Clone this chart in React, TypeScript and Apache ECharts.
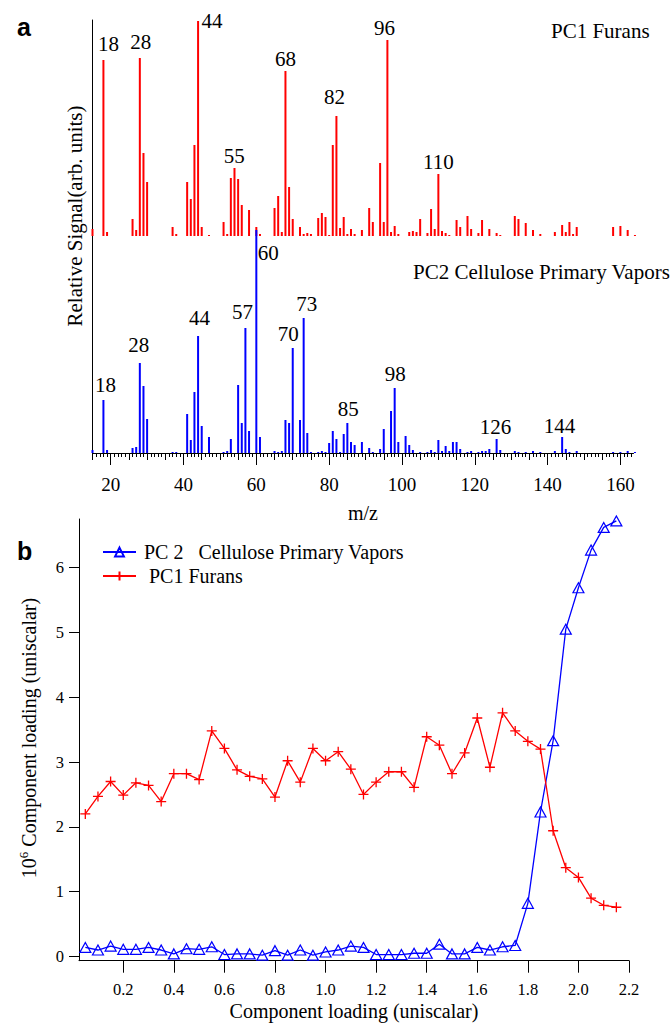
import React, { useEffect, useRef } from "react";
import * as echarts from "echarts";

// ---------- Panel a : mass spectra (relative signal, arb. units) ----------
const redMz = [15,18,19,26,27,28,29,30,37,38,41,42,43,44,45,47,51,52,53,54,55,56,58,60,61,65,66,67,68,69,70,72,73,74,75,77,78,79,80,81,82,83,84,85,86,87,89,91,92,94,95,96,97,98,99,102,103,104,105,107,108,109,110,111,112,113,115,116,118,119,121,122,124,126,127,131,132,134,136,138,142,144,145,146,147,148,158,160,162,164];
const redSignal = [7,176,4,17,6,178,83,54,9,2,54,37,91,215,9,1,14,2,58,68,57,31,26,9,2,28,40,4,165,49,17,9,2,3,2,18,23,19,1,91,120,8,19,2,7,2,6,28,14,73,14,196,4,10,2,4,5,4,17,3,27,7,62,5,3,1,16,9,20,7,3,16,7,3,1,20,17,13,6,2,4,11,4,14,2,9,9,10,6,1];
const redPeaks = [18,28,44,55,68,82,96,110];

const blueMz = [15,18,19,26,27,28,29,30,37,38,41,42,43,44,45,47,51,52,53,55,56,57,58,60,61,65,66,67,68,69,70,72,73,74,75,77,78,79,80,81,82,83,84,85,86,87,89,91,92,94,95,97,98,99,101,102,103,105,107,108,109,110,111,112,113,114,115,116,118,119,121,122,123,124,126,127,131,132,134,136,138,142,144,145,146,148,158,160,162,164];
const blueSignal = [3,53,3,5,6,90,67,34,1,1,39,13,61,117,27,16,1,2,14,68,30,125,22,223,16,2,1,2,33,30,105,33,135,20,1,1,2,1,10,22,14,1,19,30,11,8,11,5,1,4,24,42,65,11,17,8,3,1,1,3,1,13,2,7,2,11,11,4,1,2,1,2,2,4,14,3,2,1,1,2,1,2,16,4,1,2,1,1,2,1];
const bluePeaks = [18,28,44,57,60,70,73,85,98,126,144];

const mzTicks = [20,40,60,80,100,120,140,160];

// ---------- Panel b : component loading ----------
const loading = [0.05,0.10,0.15,0.20,0.25,0.30,0.35,0.40,0.45,0.50,0.55,0.60,0.65,0.70,0.75,0.80,0.85,0.90,0.95,1.00,1.05,1.10,1.15,1.20,1.25,1.30,1.35,1.40,1.45,1.50,1.55,1.60,1.65,1.70,1.75,1.80,1.85,1.90,1.95,2.00,2.05,2.10,2.15];
const pc2Values = [0.14,0.10,0.16,0.11,0.11,0.14,0.10,0.04,0.12,0.11,0.15,0.03,0.04,0.04,0.02,0.09,0.02,0.10,0.02,0.07,0.10,0.16,0.14,0.03,0.03,0.03,0.05,0.05,0.19,0.04,0.04,0.14,0.10,0.15,0.17,0.82,2.23,3.33,5.05,5.69,6.27,6.62,6.72];
const pc1Values = [2.20,2.47,2.70,2.49,2.68,2.64,2.39,2.82,2.82,2.73,3.48,3.21,2.88,2.78,2.74,2.46,3.02,2.69,3.21,3.02,3.16,2.89,2.50,2.69,2.85,2.85,2.61,3.39,3.26,2.82,3.14,3.68,2.92,3.76,3.48,3.32,3.20,1.94,1.37,1.22,0.90,0.79,0.76];
const loadingTicks = [0.2,0.4,0.6,0.8,1.0,1.2,1.4,1.6,1.8,2.0,2.2];
const signalTicks = [0,1,2,3,4,5,6];

const PC2_NAME = "PC 2\u00a0\u00a0\u00a0Cellulose Primary Vapors";
const PC1_NAME = "\u00a0PC1 Furans";

// label placement tweaks (style only)
const redLabelOffsets: Record<number, [number, number]> = {
  18: [5, -6], 28: [1, -6], 44: [14, 10], 55: [-4, -13], 68: [0, -2], 82: [-2, -9], 96: [-3, -2], 110: [0, -2],
};
const blueLabelOffsets: Record<number, [number, number]> = {
  18: [2, -5], 28: [-1, -8], 44: [1.5, -8], 57: [-3, -6], 60: [12, 33], 70: [-4.5, -3.5], 73: [3, -3.5], 85: [1, -3.5], 98: [0.7, -4], 126: [-1, -2], 144: [-2.7, -0.5],
};

const SERIF = "Liberation Serif, Times New Roman, serif";
const SANS = "Liberation Sans, Arial, sans-serif";

function barData(mz: number[], sig: number[], peaks: number[], offsets: Record<number, [number, number]>) {
  return mz.map((m, i) => {
    if (peaks.indexOf(m) >= 0) {
      return {
        value: [m, sig[i]],
        label: {
          show: true,
          position: "top",
          distance: 0,
          formatter: String(m),
          offset: offsets[m] || [0, 0],
          fontSize: 21,
          lineHeight: 21,
          fontFamily: SERIF,
          color: "#000",
        },
      };
    }
    return { value: [m, sig[i]] };
  });
}

export default function App() {
  const ref = useRef<HTMLDivElement>(null);

  useEffect(() => {
    if (!ref.current) return;
    const chart = echarts.init(ref.current, undefined, { renderer: "svg" });

    const mzMin = 15;
    const mzMax = 163.6;
    const tick5: number[] = [];
    for (let v = 15; v <= 160; v += 5) tick5.push(v);
    const tick1: number[] = [];
    for (let v = 15; v <= 163; v += 1) tick1.push(v);

    const blackLine = { color: "#000", width: 1 };

    const option: any = {
      animation: false,
      backgroundColor: "#fff",
      textStyle: { fontFamily: SERIF },
      grid: [
        { left: 92.5, top: 20, width: 541, height: 216 },
        { left: 92.5, top: 230, width: 541, height: 223 },
        { left: 79, top: 519, width: 550, height: 441.7 },
      ],
      xAxis: [
        { type: "value", gridIndex: 0, position: "bottom", min: mzMin, max: mzMax, show: false },
        {
          type: "value", gridIndex: 1, position: "bottom", min: mzMin, max: mzMax,
          axisLine: { show: true, onZero: false, lineStyle: blackLine },
          axisTick: { show: true, length: 12, customValues: mzTicks, lineStyle: blackLine },
          axisLabel: { show: true, customValues: mzTicks, margin: 22, fontSize: 19, fontFamily: SERIF, color: "#000" },
          splitLine: { show: false },
        },
        {
          type: "value", gridIndex: 1, position: "bottom", min: mzMin, max: mzMax,
          axisLine: { show: false, onZero: false },
          axisTick: { show: true, length: 7, customValues: tick5, lineStyle: blackLine },
          axisLabel: { show: false },
          splitLine: { show: false },
        },
        {
          type: "value", gridIndex: 1, position: "bottom", min: mzMin, max: mzMax,
          axisLine: { show: false, onZero: false },
          axisTick: { show: true, length: 4, customValues: tick1, lineStyle: blackLine },
          axisLabel: { show: false },
          splitLine: { show: false },
        },
        {
          type: "value", gridIndex: 2, position: "bottom", min: 0.025, max: 2.2,
          axisLine: { show: true, onZero: false, lineStyle: blackLine },
          axisTick: { show: true, length: 12, customValues: loadingTicks, lineStyle: blackLine },
          axisLabel: {
            show: true, customValues: loadingTicks, margin: 20, fontSize: 16.5, fontFamily: SERIF, color: "#000",
            formatter: (v: number) => v.toFixed(1),
          },
          splitLine: { show: false },
        },
      ],
      yAxis: [
        {
          type: "value", gridIndex: 0, position: "left", min: 0, max: 216,
          axisLine: { show: true, onZero: false, lineStyle: blackLine },
          axisTick: { show: false }, axisLabel: { show: false }, splitLine: { show: false },
        },
        {
          type: "value", gridIndex: 1, position: "left", min: 0, max: 223,
          axisLine: { show: true, onZero: false, lineStyle: blackLine },
          axisTick: { show: false }, axisLabel: { show: false }, splitLine: { show: false },
        },
        {
          type: "value", gridIndex: 2, position: "left", min: -0.065, max: 6.75,
          axisLine: { show: true, onZero: false, lineStyle: blackLine },
          axisTick: { show: true, length: 10, customValues: signalTicks, lineStyle: blackLine },
          axisLabel: { show: true, customValues: signalTicks, margin: 15, fontSize: 16.5, fontFamily: SERIF, color: "#000" },
          splitLine: { show: false },
        },
      ],
      legend: {
        orient: "vertical",
        left: 102,
        top: 542,
        padding: 0,
        itemWidth: 33,
        itemHeight: 11,
        itemGap: 4,
        selectedMode: false,
        textStyle: { fontSize: 20, lineHeight: 20, fontFamily: SERIF, color: "#000", padding: [0, 0, 0, 3] },
        data: [PC2_NAME, PC1_NAME],
      },
      series: [
        {
          type: "bar", name: "PC1 Furans spectrum", xAxisIndex: 0, yAxisIndex: 0,
          barWidth: 2, itemStyle: { color: "#ff0000" },
          data: barData(redMz, redSignal, redPeaks, redLabelOffsets),
        },
        {
          type: "bar", name: "PC2 spectrum", xAxisIndex: 1, yAxisIndex: 1,
          barWidth: 2, itemStyle: { color: "#0000ff" },
          data: barData(blueMz, blueSignal, bluePeaks, blueLabelOffsets),
        },
        {
          type: "line", name: PC2_NAME, xAxisIndex: 4, yAxisIndex: 2,
          symbol: "triangle", symbolSize: [11, 10],
          lineStyle: { color: "#0000ff", width: 1.3 },
          itemStyle: { color: "rgba(255,255,255,0)", borderColor: "#0000ff", borderWidth: 1.2 },
          data: loading.map((x, i) => [x, pc2Values[i]]),
        },
        {
          type: "line", name: PC1_NAME, xAxisIndex: 4, yAxisIndex: 2,
          symbol: "path://M5,0L5,10M0,5L10,5", symbolSize: 10,
          lineStyle: { color: "#ff0000", width: 1.3 },
          itemStyle: { color: "#ff0000", borderColor: "#ff0000", borderWidth: 1.3 },
          data: loading.map((x, i) => [x, pc1Values[i]]),
        },
      ],
      graphic: [
        { type: "text", x: 17, y: 27, style: { text: "a", font: `bold 25px ${SANS}`, fill: "#000", align: "left", verticalAlign: "middle" } },
        { type: "text", x: 17, y: 551, style: { text: "b", font: `bold 25px ${SANS}`, fill: "#000", align: "left", verticalAlign: "middle" } },
        { type: "text", x: 551, y: 31, style: { text: "PC1 Furans", font: `21px ${SERIF}`, fill: "#000", align: "left", verticalAlign: "middle" } },
        { type: "text", x: 413, y: 272, style: { text: "PC2 Cellulose Primary Vapors", font: `21px ${SERIF}`, fill: "#000", align: "left", verticalAlign: "middle" } },
        { type: "text", x: 75, y: 216, rotation: Math.PI / 2, style: { text: "Relative Signal(arb. units)", font: `21px ${SERIF}`, fill: "#000", align: "center", verticalAlign: "middle" } },
        { type: "text", x: 363, y: 513, style: { text: "m/z", font: `20px ${SERIF}`, fill: "#000", align: "center", verticalAlign: "middle" } },
        { type: "text", x: 354, y: 1011, style: { text: "Component loading (uniscalar)", font: `20px ${SERIF}`, fill: "#000", align: "center", verticalAlign: "middle" } },
        {
          type: "text", x: 28, y: 738, rotation: Math.PI / 2,
          style: {
            text: "{m|10}{s|6}{m| Component loading (uniscalar)}",
            fill: "#000", align: "center", verticalAlign: "middle",
            rich: {
              m: { fontSize: 20, fontFamily: SERIF, lineHeight: 22, verticalAlign: "bottom", fill: "#000" },
              s: { fontSize: 13, fontFamily: SERIF, lineHeight: 13, verticalAlign: "top", fill: "#000" },
            },
          },
        },
      ],
    };

    chart.setOption(option);
    return () => chart.dispose();
  }, []);

  return (
    <div
      ref={ref}
      style={{ position: "absolute", left: 0, top: 0, width: 672, height: 1023, background: "#fff" }}
    />
  );
}
